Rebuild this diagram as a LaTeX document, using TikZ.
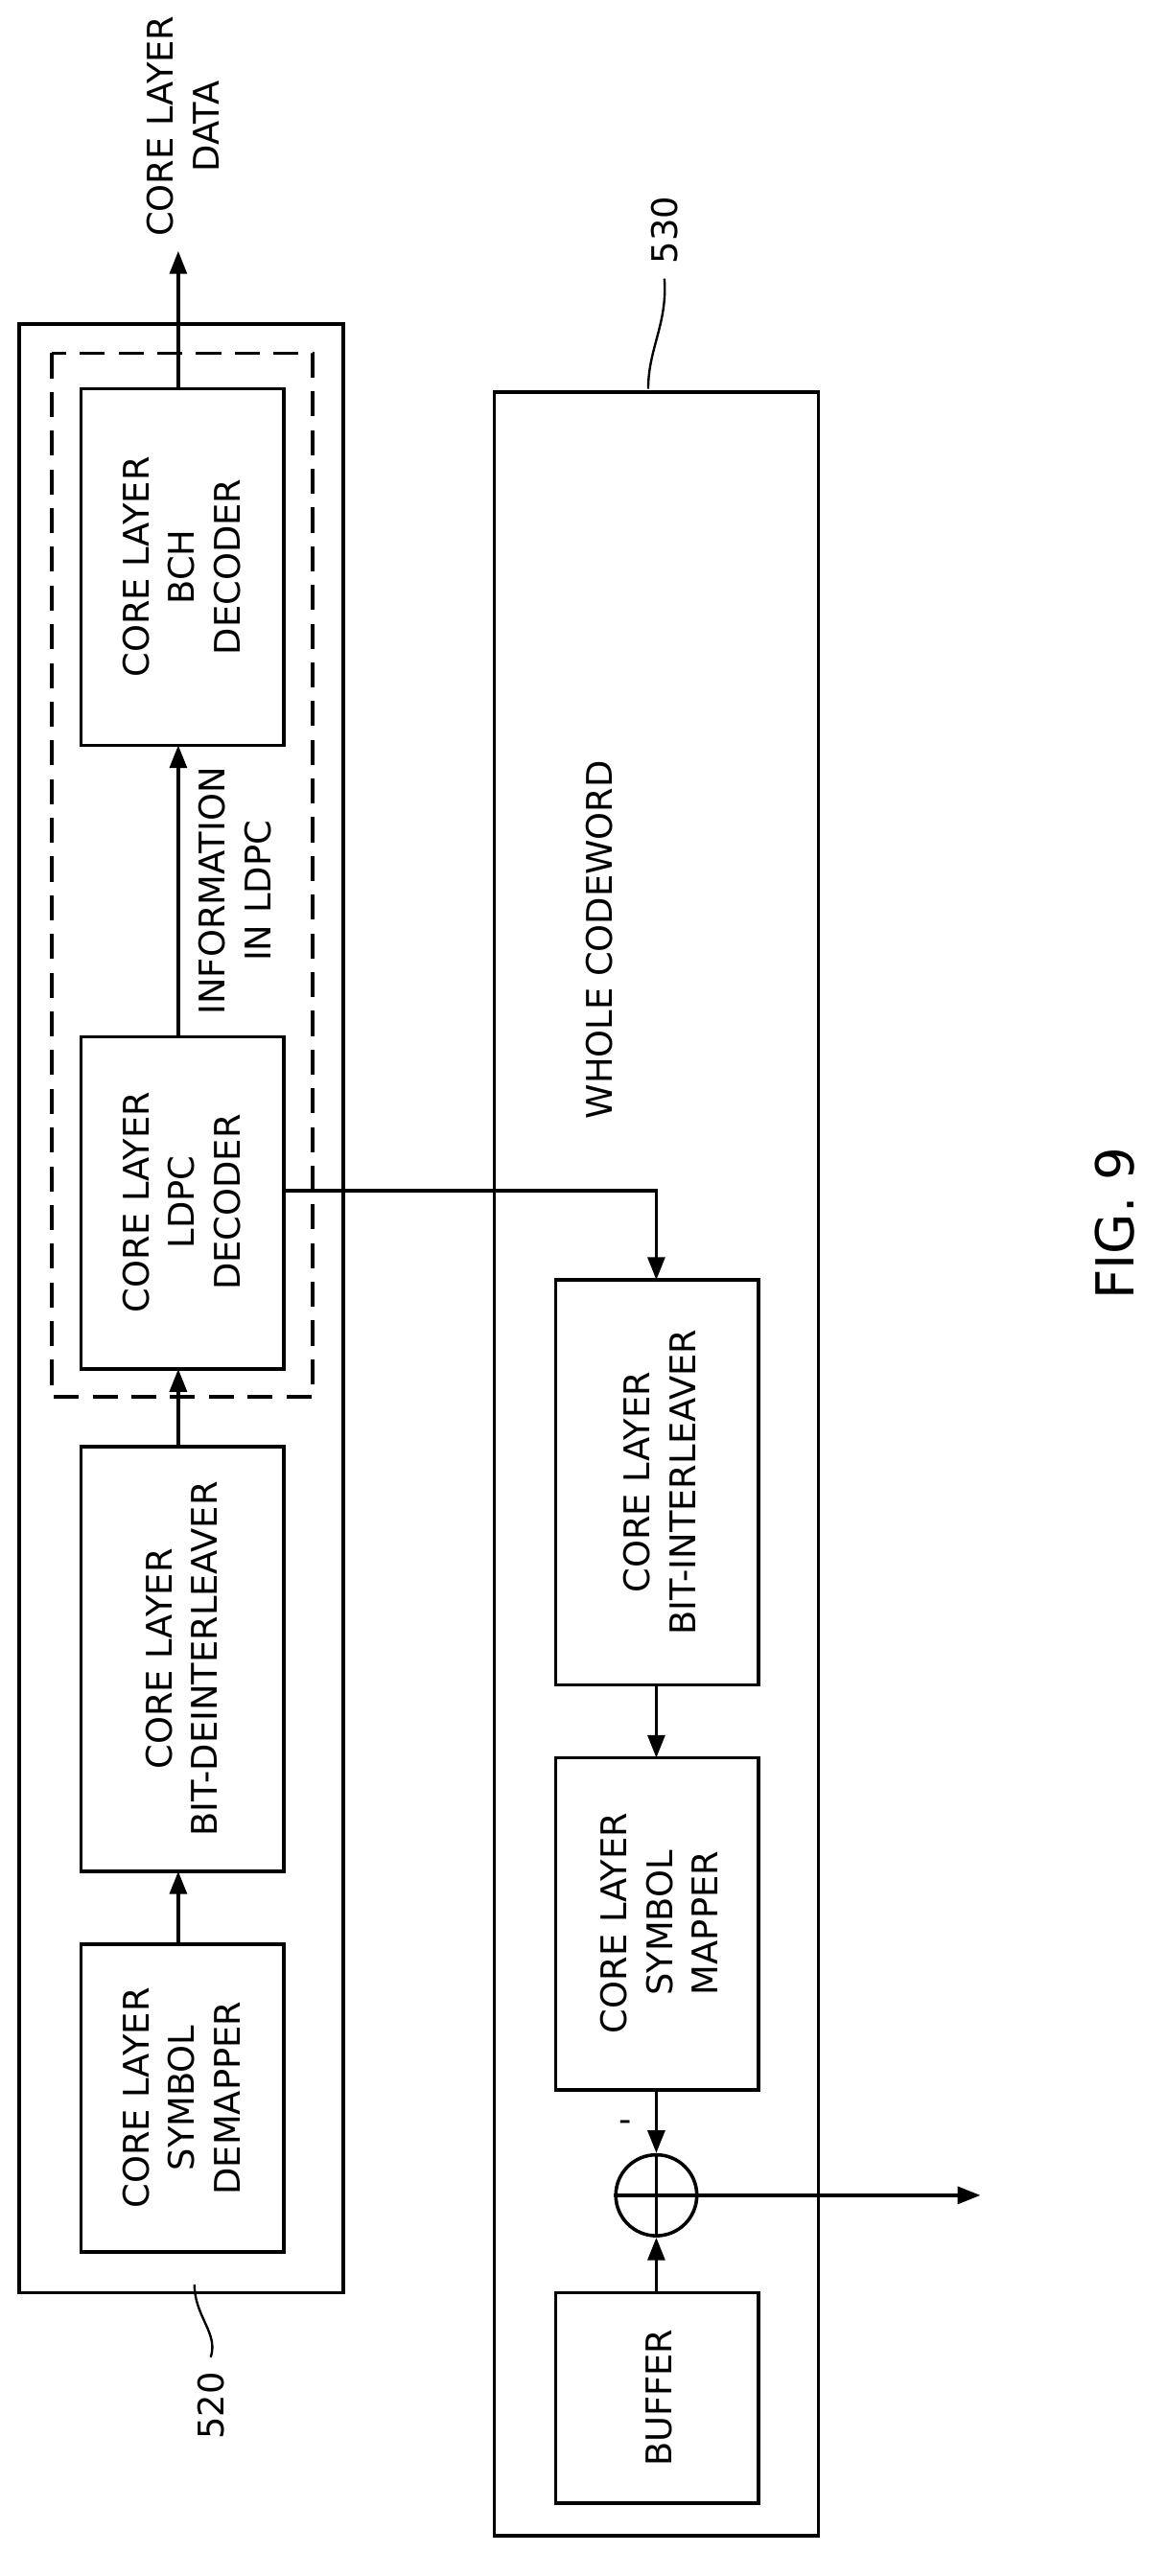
\documentclass[tikz,border=0pt]{standalone}
\usepackage{fontspec}
\setmainfont{DejaVu Sans}
\usetikzlibrary{arrows.meta}
\begin{document}
\begin{tikzpicture}[x=0.05cm,y=-0.05cm,line width=3pt,
 blk/.style={draw,fill=white},
 txt/.style={rotate=90,align=center,font=\fontsize{31}{40}\selectfont,inner sep=0},
 arr/.style={-{Triangle[length=20pt,width=15pt]}}]
\useasboundingbox (0,0) rectangle (720,1590);
\draw (12,200) rectangle (212,1415);
\draw[dash pattern=on 22pt off 12pt] (32,218) rectangle (193,862);
\draw[blk] (50,240) rectangle (175,460);
\draw[blk] (50,640) rectangle (175,845);
\draw[blk] (50,893) rectangle (175,1155);
\draw[blk] (50,1200) rectangle (175,1390);
\coordinate (bchT) at (110,240); \coordinate (bchB) at (110,460);
\coordinate (ldT) at (110,640); \coordinate (ldB) at (110,845); \coordinate (ldR) at (175,735);
\coordinate (deT) at (110,893); \coordinate (deB) at (110,1155);
\coordinate (dmT) at (110,1200);
\coordinate (out1) at (110,155);
\node[txt] at (112,350) {CORE LAYER\\BCH\\DECODER};
\node[txt] at (112,742) {CORE LAYER\\LDPC\\DECODER};
\node[txt] at (112,1024) {CORE LAYER\\BIT-DEINTERLEAVER};
\node[txt] at (112,1295) {CORE LAYER\\SYMBOL\\DEMAPPER};
\node[txt] at (145,550) {INFORMATION\\IN LDPC};
\node[txt] at (113,78) {CORE LAYER\\DATA};
\draw[arr] (dmT) -- (deB);
\draw[arr] (deT) -- (ldB);
\draw[arr] (ldT) -- (bchB);
\draw[arr] (bchT) -- (out1);
% 530
\draw (305,242) rectangle (505,1565);
\draw[blk] (343,790) rectangle (468,1040);
\draw[blk] (343,1085) rectangle (468,1290);
\draw[blk] (343,1415) rectangle (468,1545);
\node[draw,circle,inner sep=0,minimum size=2.5cm] (sum) at (405,1355) {};
\draw (sum.north) -- (sum.south) (sum.west) -- (sum.east);
\coordinate (biT) at (405,790); \coordinate (biB) at (405,1040);
\coordinate (smT) at (405,1085); \coordinate (smB) at (405,1290);
\coordinate (buT) at (405,1415); \coordinate (out2) at (605,1355);
\node[txt] at (407,915) {CORE LAYER\\BIT-INTERLEAVER};
\node[txt] at (407,1187) {CORE LAYER\\SYMBOL\\MAPPER};
\node[txt] at (407,1480) {BUFFER};
\node[txt] at (370,580) {WHOLE CODEWORD};
\node[font=\fontsize{31}{40}\selectfont] at (386,1312) {-};
\draw[arr] (ldR) -- (405,735) -- (biT);
\draw[arr] (biB) -- (smT);
\draw[arr] (smB) -- (sum.north);
\draw[arr] (buT) -- (sum.south);
\draw[arr] (sum.east) -- (out2);
% labels
\node[txt] at (410,142) {530};
\draw[line width=2pt] (400,240) .. controls (400,215) and (412,200) .. (410,172);
\node[txt] at (130,1485) {520};
\draw[line width=2pt] (120,1410) .. controls (120,1430) and (135,1440) .. (130,1455);
\node[rotate=90,font=\fontsize{46}{50}\selectfont] at (688,755) {FIG. 9};
\end{tikzpicture}
\end{document}
